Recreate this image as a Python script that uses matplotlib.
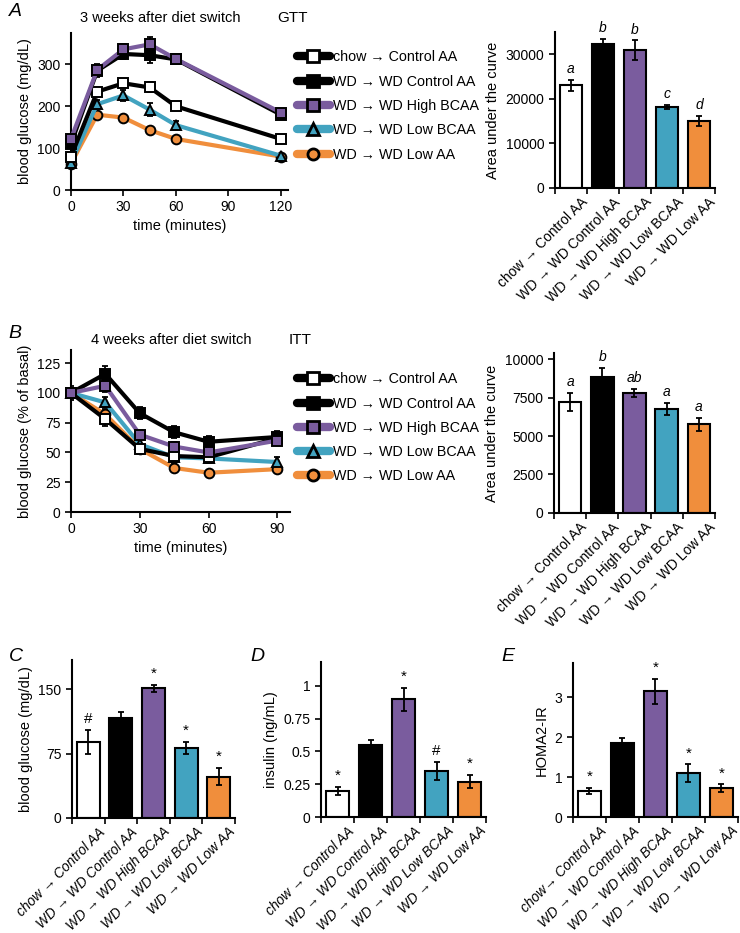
import numpy as np
import matplotlib
matplotlib.use('Agg')
import matplotlib.pyplot as plt
import matplotlib.transforms as mtransforms
from matplotlib.lines import Line2D

plt.rcParams['font.family'] = ['Liberation Sans', 'DejaVu Sans']
plt.rcParams['font.size'] = 10

# groups
grupos = ['chow \u2192 Control AA', 'WD \u2192 WD Control AA', 'WD \u2192 WD High BCAA',
          'WD \u2192 WD Low BCAA', 'WD \u2192 WD Low AA']
colores = ['white', 'black', '#7A5C9E', '#42A3C0', '#F08E3C']
marcadores = ['s', 's', 's', '^', 'o']
lineas = ['black', 'black', '#7A5C9E', '#42A3C0', '#F08E3C']

# GTT, 3 weeks
t_gtt = [0, 15, 30, 45, 60, 120]
gtt = [[80, 235, 255, 245, 200, 122],
       [110, 285, 325, 322, 312, 180],
       [122, 287, 336, 348, 313, 185],
       [65, 205, 226, 192, 155, 82],
       [63, 180, 173, 143, 122, 80]]
gtt_err = [[8, 12, 10, 12, 10, 5],
           [10, 15, 12, 18, 12, 8],
           [8, 12, 12, 18, 12, 6],
           [5, 10, 14, 15, 10, 4],
           [4, 5, 5, 5, 4, 3]]
auc_gtt = [23000, 32200, 30900, 18200, 15000]
auc_gtt_err = [1200, 1200, 2200, 500, 1200]
letras_gtt = ['a', 'b', 'b', 'c', 'd']

# ITT, 4 weeks
t_itt = [0, 15, 30, 45, 60, 90]
itt = [[100, 78, 53, 47, 46, 62],
       [100, 116, 83, 67, 59, 63],
       [100, 106, 65, 55, 50, 60],
       [100, 92, 57, 46, 45, 42],
       [100, 82, 53, 37, 33, 36]]
itt_err = [[4, 6, 4, 4, 4, 4],
           [6, 7, 5, 5, 5, 5],
           [3, 5, 4, 4, 4, 4],
           [3, 5, 4, 4, 4, 4],
           [3, 4, 3, 3, 2, 3]]
auc_itt = [7200, 8850, 7800, 6750, 5750]
auc_itt_err = [600, 600, 250, 400, 450]
letras_itt = ['a', 'b', 'ab', 'a', 'a']

# fasting
glucosa = [89, 116, 151, 82, 48]
glucosa_err = [14, 7, 4, 7, 10]
glucosa_sig = ['#', '', '*', '*', '*']
insulina = [0.2, 0.545, 0.895, 0.35, 0.27]
insulina_err = [0.03, 0.04, 0.09, 0.07, 0.05]
insulina_sig = ['*', '', '*', '#', '*']
homa = [0.65, 1.85, 3.15, 1.1, 0.72]
homa_err = [0.08, 0.13, 0.32, 0.22, 0.1]
homa_sig = ['*', '', '*', '*', '*']
etiquetas_e = ['chow\u2192 Control AA'] + grupos[1:]

fig = plt.figure(figsize=(7.4, 9.33), dpi=100)


def estilo(ax):
    ax.spines['top'].set_visible(False)
    ax.spines['right'].set_visible(False)
    ax.spines['left'].set_linewidth(1.5)
    ax.spines['bottom'].set_linewidth(1.5)
    ax.tick_params(width=1.2, length=4, labelsize=10)


def curvas(ax, t, datos, err):
    for i in [4, 3, 0, 1, 2]:
        ax.errorbar(t, datos[i], yerr=err[i], fmt='none', ecolor='k',
                    capsize=2, elinewidth=1.3, capthick=1.3, zorder=2)
        ax.plot(t, datos[i], color=lineas[i], lw=3, marker=marcadores[i],
                mfc=colores[i], mec='k', mew=1.4, ms=7, zorder=3,
                clip_on=False)
    estilo(ax)


def barras(ax, vals, errs, textos, etiquetas, cursiva=False, letras=True):
    x = np.arange(len(vals))
    ax.bar(x, vals, width=0.7, color=colores, edgecolor='k', linewidth=1.5, zorder=2)
    ax.errorbar(x, vals, yerr=errs, fmt='none', ecolor='k', capsize=2.5,
                elinewidth=1.3, capthick=1.3, zorder=3)
    ax.set_xlim(-0.5, len(vals) - 0.5)
    estilo(ax)
    ax.set_xticks(x)
    ax.set_xticklabels(etiquetas, rotation=45, ha='right', rotation_mode='anchor',
                       fontsize=9.8 if cursiva else 10,
                       style='italic' if cursiva else 'normal')
    ax.tick_params(axis='x', length=0, pad=5)
    desp = mtransforms.ScaledTranslation(7 / 72, 0, fig.dpi_scale_trans)
    for lab in ax.get_xticklabels():
        lab.set_transform(lab.get_transform() + desp)
    ax.set_xticks(np.arange(-0.5, len(vals)), minor=True)
    ax.tick_params(axis='x', which='minor', length=4, width=1.2)
    top = ax.get_ylim()[1]
    for i in range(len(vals)):
        if textos[i]:
            ax.text(x[i], vals[i] + errs[i] + top * 0.025, textos[i], ha='center',
                    va='bottom', fontsize=10 if letras else 11,
                    style='italic' if letras else 'normal')


def leyenda(y):
    handles = [Line2D([0], [0], color=lineas[i], lw=6, marker=marcadores[i],
                      mfc=colores[i], mec='k', mew=2, ms=8,
                      solid_capstyle='round') for i in range(5)]
    fig.legend(handles, grupos, loc='upper left', bbox_to_anchor=(0.401, y),
               frameon=False, fontsize=10.3, handlelength=2.3, handletextpad=0.25,
               labelspacing=0.72, borderaxespad=0, borderpad=0)

# A - GTT curve
ax = fig.add_axes([0.0959, 0.7963, 0.2932, 0.1683])
curvas(ax, t_gtt, gtt, gtt_err)
ax.set_xlim(0, 124)
ax.set_ylim(0, 375)
ax.set_xticks([0, 30, 60, 90, 120])
ax.set_yticks([0, 100, 200, 300])
ax.set_xlabel('time (minutes)', fontsize=10.5, labelpad=3)
ax.set_ylabel('blood glucose (mg/dL)', fontsize=10.5)
fig.text(0.216, 0.981, '3 weeks after diet switch', ha='center', va='center', fontsize=10.5)
fig.text(0.374, 0.981, 'GTT', ha='left', va='center', fontsize=11)
fig.text(0.012, 0.988, 'A', ha='left', va='center', fontsize=14, style='italic')
leyenda(0.946)

ax = fig.add_axes([0.75, 0.7985, 0.2162, 0.1672])
ax.set_ylim(0, 35000)
barras(ax, auc_gtt, auc_gtt_err, letras_gtt, grupos)
ax.set_yticks([0, 10000, 20000, 30000])
ax.set_ylabel('Area under the curve', fontsize=10.5)

# B - ITT curve
ax = fig.add_axes([0.0959, 0.4512, 0.2959, 0.1736])
curvas(ax, t_itt, itt, itt_err)
ax.set_xlim(0, 95.5)
ax.set_ylim(0, 136)
ax.set_xticks([0, 30, 60, 90])
ax.set_yticks([0, 25, 50, 75, 100, 125])
ax.set_xlabel('time (minutes)', fontsize=10.5, labelpad=3)
ax.set_ylabel('blood glucose (% of basal)', fontsize=10.5)
fig.text(0.232, 0.636, '4 weeks after diet switch', ha='center', va='center', fontsize=10.5)
fig.text(0.390, 0.636, 'ITT', ha='left', va='center', fontsize=11)
fig.text(0.012, 0.643, 'B', ha='left', va='center', fontsize=14, style='italic')
leyenda(0.601)

ax = fig.add_axes([0.7486, 0.4502, 0.2176, 0.1715])
ax.set_ylim(0, 10400)
barras(ax, auc_itt, auc_itt_err, letras_itt, grupos)
ax.set_yticks([0, 2500, 5000, 7500, 10000])
ax.set_ylabel('Area under the curve', fontsize=10.5)

# C, D, E
ax = fig.add_axes([0.0973, 0.1233, 0.2203, 0.1693])
ax.set_ylim(0, 184)
barras(ax, glucosa, glucosa_err, glucosa_sig, grupos, cursiva=True, letras=False)
ax.set_yticks([0, 75, 150])
ax.set_ylabel('blood glucose (mg/dL)', fontsize=10.5)
fig.text(0.012, 0.296, 'C', ha='left', va='center', fontsize=14, style='italic')

ax = fig.add_axes([0.4338, 0.1243, 0.223, 0.1661])
ax.set_ylim(0, 1.18)
barras(ax, insulina, insulina_err, insulina_sig, grupos, cursiva=True, letras=False)
ax.set_yticks([0, 0.25, 0.5, 0.75, 1])
ax.set_yticklabels(['0', '0.25', '0.5', '0.75', '1'])
ax.set_ylabel('insulin (ng/mL)', fontsize=10.5)
fig.text(0.338, 0.296, 'D', ha='left', va='center', fontsize=14, style='italic')

ax = fig.add_axes([0.7743, 0.1243, 0.223, 0.1651])
ax.set_ylim(0, 3.86)
barras(ax, homa, homa_err, homa_sig, etiquetas_e, cursiva=True, letras=False)
ax.set_yticks([0, 1, 2, 3])
ax.set_ylabel('HOMA2-IR', fontsize=10.5)
fig.text(0.677, 0.296, 'E', ha='left', va='center', fontsize=14, style='italic')

plt.savefig('out.png', dpi=100)
